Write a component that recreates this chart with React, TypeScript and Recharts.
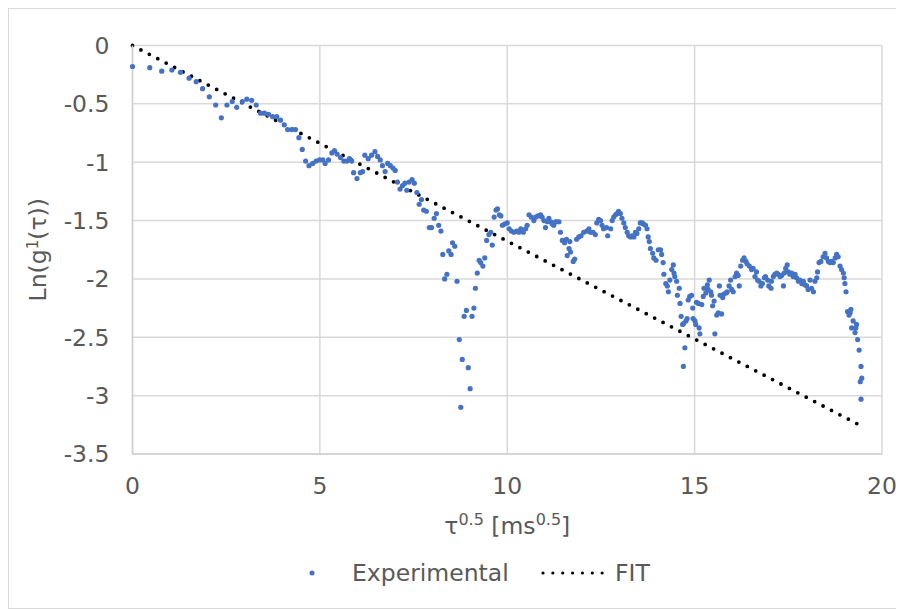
import { ComposedChart, Scatter, Line, XAxis, YAxis, CartesianGrid, Legend, Label } from "recharts";

// measured points: sqrt(tau) [ms^0.5]
const expX = [
  0.0, 0.46, 0.78, 1.05, 1.28, 1.51, 1.7, 1.87, 2.05, 2.22, 2.37, 2.52, 2.66, 2.78, 2.93, 3.05, 3.18, 3.3, 3.42, 3.52,
  3.63, 3.74, 3.85, 3.95, 4.05, 4.14, 4.25, 4.35, 4.44, 4.53, 4.62, 4.71, 4.81, 4.9, 4.99,
  5.08, 5.14, 5.23, 5.32, 5.39, 5.46, 5.55, 5.64, 5.72, 5.79, 5.85, 5.9, 5.99, 6.08, 6.14, 6.2, 6.29, 6.38, 6.47, 6.54,
  6.61, 6.67, 6.74, 6.81, 6.88, 6.95, 7.01, 7.07, 7.14, 7.21, 7.27, 7.32, 7.38, 7.46, 7.52, 7.59, 7.65, 7.71, 7.77, 7.84,
  7.92, 7.98, 8.05, 8.11, 8.17, 8.23, 8.28, 8.33, 8.39, 8.44, 8.5, 8.54, 8.6, 8.66, 8.72, 8.76, 8.8, 8.85, 8.91, 8.96,
  9.01, 9.06, 9.11, 9.15, 9.2, 9.25, 9.29, 9.35, 9.4, 9.45, 9.51, 9.56, 9.6, 9.65, 9.7, 9.74, 9.79,
  9.83, 9.87, 9.93, 10.0, 10.05, 10.11, 10.18, 10.25, 10.31, 10.36, 10.43, 10.49, 10.53, 10.58, 10.64, 10.71, 10.76,
  10.82, 10.89, 10.93, 10.98, 11.02, 11.07, 11.11, 11.16, 11.2, 11.24, 11.29, 11.33, 11.38, 11.42, 11.47, 11.53, 11.58,
  11.6, 11.65, 11.67, 11.69, 11.76, 11.8, 11.85, 11.91, 11.97, 12.04, 12.12, 12.18, 12.22, 12.29, 12.35, 12.39, 12.44,
  12.49, 12.53, 12.57, 12.65, 12.68, 12.76, 12.8, 12.84, 12.89, 12.93, 12.97, 13.02, 13.06, 13.11, 13.15, 13.2, 13.24,
  13.29, 13.33, 13.38, 13.42, 13.46, 13.51, 13.55, 13.6, 13.64, 13.69, 13.73,
  13.76, 13.79, 13.82, 13.88, 13.91, 13.97, 14.03, 14.09, 14.12, 14.16, 14.18, 14.23, 14.27, 14.3, 14.34, 14.39, 14.43,
  14.45, 14.47, 14.52, 14.54, 14.59, 14.61, 14.64, 14.68, 14.71, 14.74, 14.7, 14.77, 14.8, 14.83, 14.87, 14.92, 14.95,
  14.96, 15.01, 15.03, 15.05, 15.1, 15.12, 15.14, 15.19, 15.23, 15.25, 15.3, 15.34, 15.36, 15.39, 15.43, 15.45, 15.48,
  15.52, 15.54, 15.59, 15.63, 15.66, 15.68, 15.72, 15.75, 15.78, 15.84, 15.87, 15.92, 15.96, 15.99, 16.03, 16.08, 16.12,
  16.16, 16.19, 16.23, 16.28, 16.32, 16.37, 16.4, 16.46, 16.52, 16.56, 16.61,
  16.65, 16.68, 16.72, 16.77, 16.81, 16.86, 16.89, 16.95, 16.98, 17.04, 17.05, 17.1, 17.14, 17.19, 17.23, 17.28, 17.32,
  17.37, 17.39, 17.43, 17.47, 17.5, 17.54, 17.59, 17.63, 17.68, 17.72, 17.77, 17.81, 17.86, 17.9, 17.94, 17.99, 18.03,
  18.08, 18.12, 18.17, 18.21, 18.26, 18.28, 18.32, 18.37, 18.43, 18.48, 18.52, 18.57, 18.61, 18.66, 18.7, 18.75, 18.79,
  18.83, 18.88, 18.92, 18.97, 18.99, 19.01, 19.04, 19.08, 19.12, 19.15, 19.17, 19.19, 19.23, 19.28, 19.3, 19.32, 19.35,
  19.39, 19.44, 19.46, 19.42, 19.44,
];

// Ln(g1(tau))
const expY = [
  -0.18, -0.19, -0.22, -0.21, -0.23, -0.28, -0.31, -0.37, -0.44, -0.51, -0.62, -0.51, -0.48, -0.53, -0.48, -0.46, -0.47, -0.51, -0.58, -0.58,
  -0.59, -0.61, -0.61, -0.64, -0.68, -0.72, -0.72, -0.72, -0.79, -0.89, -0.99, -1.03, -1.01, -0.99, -0.98,
  -0.98, -1.01, -0.98, -0.92, -0.9, -0.93, -0.96, -0.99, -0.99, -0.97, -0.99, -1.09, -1.14, -1.09, -1.08, -0.94, -0.97, -0.94, -0.91, -0.95,
  -0.98, -1.03, -1.08, -1.01, -1.03, -1.05, -1.07, -1.17, -1.23, -1.2, -1.18, -1.24, -1.17, -1.15, -1.18, -1.26, -1.36, -1.32, -1.41, -1.42,
  -1.56, -1.56, -1.48, -1.44, -1.54, -1.59, -1.79, -2.0, -1.96, -1.76, -1.79, -1.69, -1.72, -2.02, -2.52, -3.1, -2.69, -2.32, -2.27, -2.76,
  -2.94, -2.32, -2.25, -2.08, -1.95, -1.84, -1.86, -1.89, -1.82, -1.67, -1.62, -1.6, -1.71, -1.47, -1.41, -1.4, -1.45,
  -1.46, -1.54, -1.53, -1.52, -1.57, -1.59, -1.6, -1.59, -1.6, -1.57, -1.6, -1.57, -1.54, -1.45, -1.47, -1.5, -1.47,
  -1.46, -1.45, -1.47, -1.5, -1.56, -1.51, -1.48, -1.51, -1.53, -1.54, -1.51, -1.51, -1.51, -1.6, -1.67, -1.69, -1.66,
  -1.8, -1.74, -1.68, -1.77, -1.85, -1.83, -1.66, -1.64, -1.63, -1.6, -1.59, -1.57, -1.6, -1.6, -1.62, -1.52, -1.49,
  -1.5, -1.54, -1.57, -1.56, -1.63, -1.57, -1.5, -1.47, -1.45, -1.44, -1.42, -1.44, -1.48, -1.52, -1.56, -1.6, -1.63,
  -1.64, -1.63, -1.64, -1.6, -1.61, -1.57, -1.52, -1.52, -1.53, -1.54, -1.57,
  -1.64, -1.68, -1.74, -1.78, -1.82, -1.84, -1.75, -1.75, -1.79, -1.86, -1.96, -2.04, -2.06, -2.11, -2.01, -1.92, -1.88,
  -1.95, -1.98, -2.02, -2.14, -2.08, -2.21, -2.32, -2.39, -2.38, -2.59, -2.75, -2.36, -2.34, -2.18, -2.15, -2.14, -2.25,
  -2.34, -2.36, -2.39, -2.2, -2.21, -2.42, -2.47, -2.22, -2.15, -2.08, -2.12, -2.05, -2.09, -2.01, -2.11, -2.14, -2.23,
  -2.19, -2.47, -2.31, -2.29, -2.06, -2.14, -2.3, -2.16, -2.13, -2.12, -2.11, -2.06, -2.01, -2.09, -2.11, -1.98, -1.95,
  -1.97, -2.06, -1.89, -1.84, -1.82, -1.85, -1.87, -1.89, -1.92, -1.91, -1.98,
  -1.94, -2.01, -2.02, -2.06, -2.04, -1.99, -1.98, -2.01, -2.06, -2.08, -2.02, -1.98, -1.96, -1.95, -1.96, -1.98, -1.97,
  -2.06, -1.95, -1.91, -1.88, -1.94, -1.96, -1.95, -1.98, -1.96, -1.99, -2.02, -2.01, -2.04, -2.02, -2.05, -2.06, -2.09,
  -2.01, -2.08, -2.11, -2.02, -1.99, -1.94, -1.86, -1.85, -1.81, -1.78, -1.82, -1.85, -1.86, -1.85, -1.86, -1.82, -1.79,
  -1.81, -1.89, -1.92, -1.95, -1.99, -2.04, -2.11, -2.28, -2.31, -2.29, -2.26, -2.42, -2.36, -2.46, -2.42, -2.39, -2.52,
  -2.61, -2.75, -2.85, -2.88, -3.03,
];

// linear fit end points
const fitX = [0, 19.45];
const fitY = [0, -3.26];

const xTicks = [0, 5, 10, 15, 20];
const yTicks = [0, -0.5, -1, -1.5, -2, -2.5, -3, -3.5];

const expData = expX.map((x, i) => ({ x, y: expY[i] }));
const fitData = fitX.map((x, i) => ({ x, y: fitY[i] }));

const FONT = "'DejaVu Sans', Verdana, sans-serif";
const TEXT = "#595959";
const BLUE = "#4472C4";
const FS = 23.5;

const XTitle = (props: any) => {
  const { x, y, width } = props.viewBox;
  return (
    <text x={x + width / 2} y={y + 80} textAnchor="middle" fill={TEXT} fontSize={FS} fontFamily={FONT}>
      <tspan>τ</tspan>
      <tspan dy={-9} fontSize={16}>0.5</tspan>
      <tspan dy={9}> [ms</tspan>
      <tspan dy={-9} fontSize={16}>0.5</tspan>
      <tspan dy={9}>]</tspan>
    </text>
  );
};

const YTitle = (props: any) => {
  const { y, height } = props.viewBox;
  const cx = 37;
  const cy = y + height / 2;
  return (
    <text x={cx} y={cy} transform={`rotate(-90, ${cx}, ${cy})`} textAnchor="middle" fill={TEXT} fontSize={FS} fontFamily={FONT}>
      <tspan>Ln(g</tspan>
      <tspan dy={-8} fontSize={15}>1</tspan>
      <tspan dy={8}>(τ))</tspan>
    </text>
  );
};

const renderLegend = () => (
  <svg width={894} height={40} style={{ display: "block" }}>
    <circle cx={303} cy={20} r={2.5} fill={BLUE} />
    <text x={343} y={28} fill={TEXT} fontSize={FS} fontFamily={FONT}>Experimental</text>
    <line x1={534} y1={20} x2={603} y2={20} stroke="#000" strokeWidth={3.2} strokeLinecap="round" strokeDasharray="0 9.86" />
    <text x={606} y={28} fill={TEXT} fontSize={FS} fontFamily={FONT}>FIT</text>
  </svg>
);

const Dot = (p: any) => <circle cx={p.cx} cy={p.cy} r={2.6} fill={BLUE} />;

export default function App() {
  return (
    <div style={{ width: 894, height: 599, border: "1px solid #d9d9d9", background: "#fff", fontFamily: FONT }}>
      <ComposedChart width={894} height={599} margin={{ top: 36.5, right: 21, left: 0, bottom: 74 }}>
        <CartesianGrid stroke="#d9d9d9" strokeWidth={1.5} />
        <XAxis
          type="number"
          dataKey="x"
          domain={[0, 20]}
          ticks={xTicks}
          height={80}
          tickLine={false}
          tickSize={0}
          tickMargin={23}
          axisLine={{ stroke: "#d0d0d0", strokeWidth: 1.5 }}
          tick={{ fill: TEXT, fontSize: FS, fontFamily: FONT }}
        >
          <Label content={XTitle} />
        </XAxis>
        <YAxis
          type="number"
          dataKey="y"
          domain={[-3.5, 0]}
          ticks={yTicks}
          width={123.5}
          tickLine={false}
          tickSize={0}
          tickMargin={23}
          axisLine={{ stroke: "#d0d0d0", strokeWidth: 1.5 }}
          tick={{ fill: TEXT, fontSize: FS, fontFamily: FONT }}
        >
          <Label content={YTitle} />
        </YAxis>
        <Legend
          layout="horizontal"
          verticalAlign="middle"
          align="center"
          wrapperStyle={{ top: 544, left: 0, width: 894, height: 40 }}
          content={renderLegend}
        />
        <Scatter name="Experimental" data={expData} fill={BLUE} shape={Dot} isAnimationActive={false} />
        <Line
          name="FIT"
          data={fitData}
          dataKey="y"
          type="linear"
          stroke="#000"
          strokeWidth={3.8}
          strokeDasharray="0 9.5"
          strokeLinecap="round"
          dot={false}
          activeDot={false}
          isAnimationActive={false}
        />
      </ComposedChart>
    </div>
  );
}
